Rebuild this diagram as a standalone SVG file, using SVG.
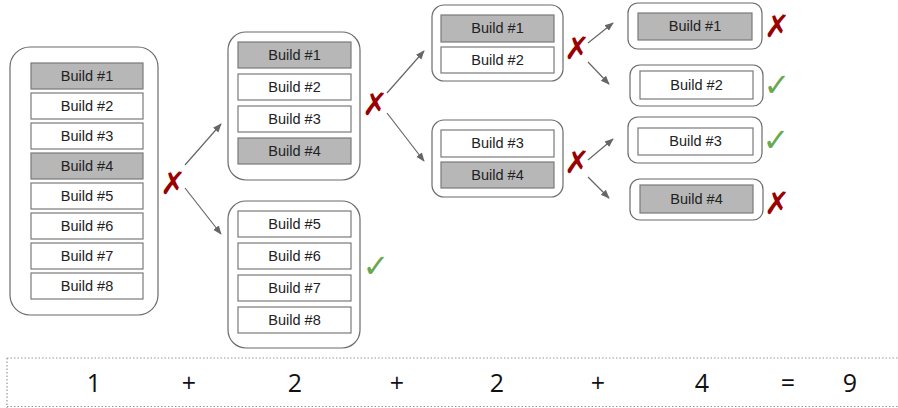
<svg xmlns="http://www.w3.org/2000/svg" width="898" height="408" viewBox="0 0 898 408">
<defs>
<style>
.c{fill:#fff;stroke:#6b6b6b;stroke-width:1.2}
.b{fill:#fff;stroke:#7a7a7a;stroke-width:1.2}
.g{fill:#b7b7b7;stroke:#7a7a7a;stroke-width:1.2}
.t{font-family:"Liberation Sans",Arial,sans-serif;font-size:14.5px;fill:#222;text-anchor:middle}
.x{font-family:"DejaVu Sans",sans-serif;font-size:31px;fill:#990000;text-anchor:middle;font-weight:bold}
.k{font-family:"DejaVu Sans",sans-serif;font-size:32px;fill:#6aa84f;text-anchor:middle;font-weight:bold}
.n{font-family:"Open Sans",sans-serif;font-size:25px;fill:#111;text-anchor:middle}
.a{stroke:#666;stroke-width:1.2;fill:none;marker-end:url(#ah)}
.d{stroke:#999;stroke-width:1.2;stroke-dasharray:1.5 2;fill:none}
</style>
<marker id="ah" viewBox="0 0 10 10" refX="9" refY="5" markerWidth="9" markerHeight="9" markerUnits="userSpaceOnUse" orient="auto">
<path d="M0,1 L10,5 L0,9 Z" fill="#666"/>
</marker>
</defs>

<g id="n1">
<rect class="c" x="10" y="47" width="148" height="268" rx="20"/>
<rect class="g" x="31" y="63" width="112" height="26"/><text class="t" x="87" y="81">Build #1</text>
<rect class="b" x="31" y="93" width="112" height="26"/><text class="t" x="87" y="111">Build #2</text>
<rect class="b" x="31" y="123" width="112" height="26"/><text class="t" x="87" y="141">Build #3</text>
<rect class="g" x="31" y="153" width="112" height="26"/><text class="t" x="87" y="171">Build #4</text>
<rect class="b" x="31" y="183" width="112" height="26"/><text class="t" x="87" y="201">Build #5</text>
<rect class="b" x="31" y="213" width="112" height="26"/><text class="t" x="87" y="231">Build #6</text>
<rect class="b" x="31" y="243" width="112" height="26"/><text class="t" x="87" y="261">Build #7</text>
<rect class="b" x="31" y="273" width="112" height="26"/><text class="t" x="87" y="291">Build #8</text>
</g>

<g id="n2">
<rect class="c" x="228" y="32" width="132" height="148" rx="18"/>
<rect class="g" x="238" y="42" width="113" height="26"/><text class="t" x="294.5" y="60">Build #1</text>
<rect class="b" x="238" y="74" width="113" height="26"/><text class="t" x="294.5" y="92">Build #2</text>
<rect class="b" x="238" y="106" width="113" height="26"/><text class="t" x="294.5" y="124">Build #3</text>
<rect class="g" x="238" y="138" width="113" height="26"/><text class="t" x="294.5" y="156">Build #4</text>
</g>

<g id="n3">
<rect class="c" x="228" y="201" width="132" height="147" rx="18"/>
<rect class="b" x="238" y="211" width="113" height="26"/><text class="t" x="294.5" y="229">Build #5</text>
<rect class="b" x="238" y="243" width="113" height="26"/><text class="t" x="294.5" y="261">Build #6</text>
<rect class="b" x="238" y="275" width="113" height="26"/><text class="t" x="294.5" y="293">Build #7</text>
<rect class="b" x="238" y="307" width="113" height="26"/><text class="t" x="294.5" y="325">Build #8</text>
</g>

<g id="n4">
<rect class="c" x="432" y="5" width="131" height="76" rx="12"/>
<rect class="g" x="441" y="15" width="113" height="27"/><text class="t" x="497.5" y="33">Build #1</text>
<rect class="b" x="441" y="47" width="113" height="26"/><text class="t" x="497.5" y="65">Build #2</text>
</g>

<g id="n5">
<rect class="c" x="432" y="120" width="131" height="77" rx="12"/>
<rect class="b" x="441" y="130" width="113" height="27"/><text class="t" x="497.5" y="148">Build #3</text>
<rect class="g" x="441" y="162" width="113" height="26"/><text class="t" x="497.5" y="180">Build #4</text>
</g>

<g id="n6">
<rect class="c" x="628" y="3" width="134" height="46" rx="10"/>
<rect class="g" x="638" y="13" width="114" height="27"/><text class="t" x="695" y="31">Build #1</text>
</g>

<g id="n7">
<rect class="c" x="630" y="65" width="133" height="41" rx="10"/>
<rect class="b" x="640" y="71" width="113" height="28"/><text class="t" x="696.5" y="90">Build #2</text>
</g>

<g id="n8">
<rect class="c" x="628" y="117" width="134" height="46" rx="10"/>
<rect class="b" x="638" y="128" width="115" height="27"/><text class="t" x="695.5" y="146">Build #3</text>
</g>

<g id="n9">
<rect class="c" x="630" y="179" width="133" height="41" rx="10"/>
<rect class="g" x="640" y="185" width="113" height="28"/><text class="t" x="696.5" y="204">Build #4</text>
</g>

<g id="connectors">
<line class="a" x1="185" y1="165" x2="221" y2="124"/>
<line class="a" x1="185" y1="188" x2="221" y2="234"/>
<line class="a" x1="387" y1="93" x2="424" y2="51"/>
<line class="a" x1="387" y1="113" x2="424" y2="161"/>
<line class="a" x1="588" y1="43" x2="613" y2="23"/>
<line class="a" x1="588" y1="62" x2="609" y2="84"/>
<line class="a" x1="588" y1="160" x2="613" y2="139"/>
<line class="a" x1="588" y1="177" x2="609" y2="198"/>
</g>

<g id="marks">
<text class="x" x="173" y="194">✗</text>
<text class="x" x="375" y="115">✗</text>
<text class="x" x="577" y="59">✗</text>
<text class="x" x="577" y="173">✗</text>
<text class="x" x="777" y="37">✗</text>
<text class="x" x="777" y="214">✗</text>
<text class="k" x="376" y="277">✓</text>
<text class="k" x="777" y="96">✓</text>
<text class="k" x="776" y="151">✓</text>
</g>

<g id="sum">
<path class="d" d="M7,358 H898 M7,358 V408 M7,406.5 H898"/>
<text class="n" x="94" y="392">1</text>
<text class="n" x="189" y="392">+</text>
<text class="n" x="295" y="392">2</text>
<text class="n" x="397" y="392">+</text>
<text class="n" x="497" y="392">2</text>
<text class="n" x="598" y="392">+</text>
<text class="n" x="702" y="392">4</text>
<text class="n" x="788" y="392">=</text>
<text class="n" x="850" y="392">9</text>
</g>
</svg>
